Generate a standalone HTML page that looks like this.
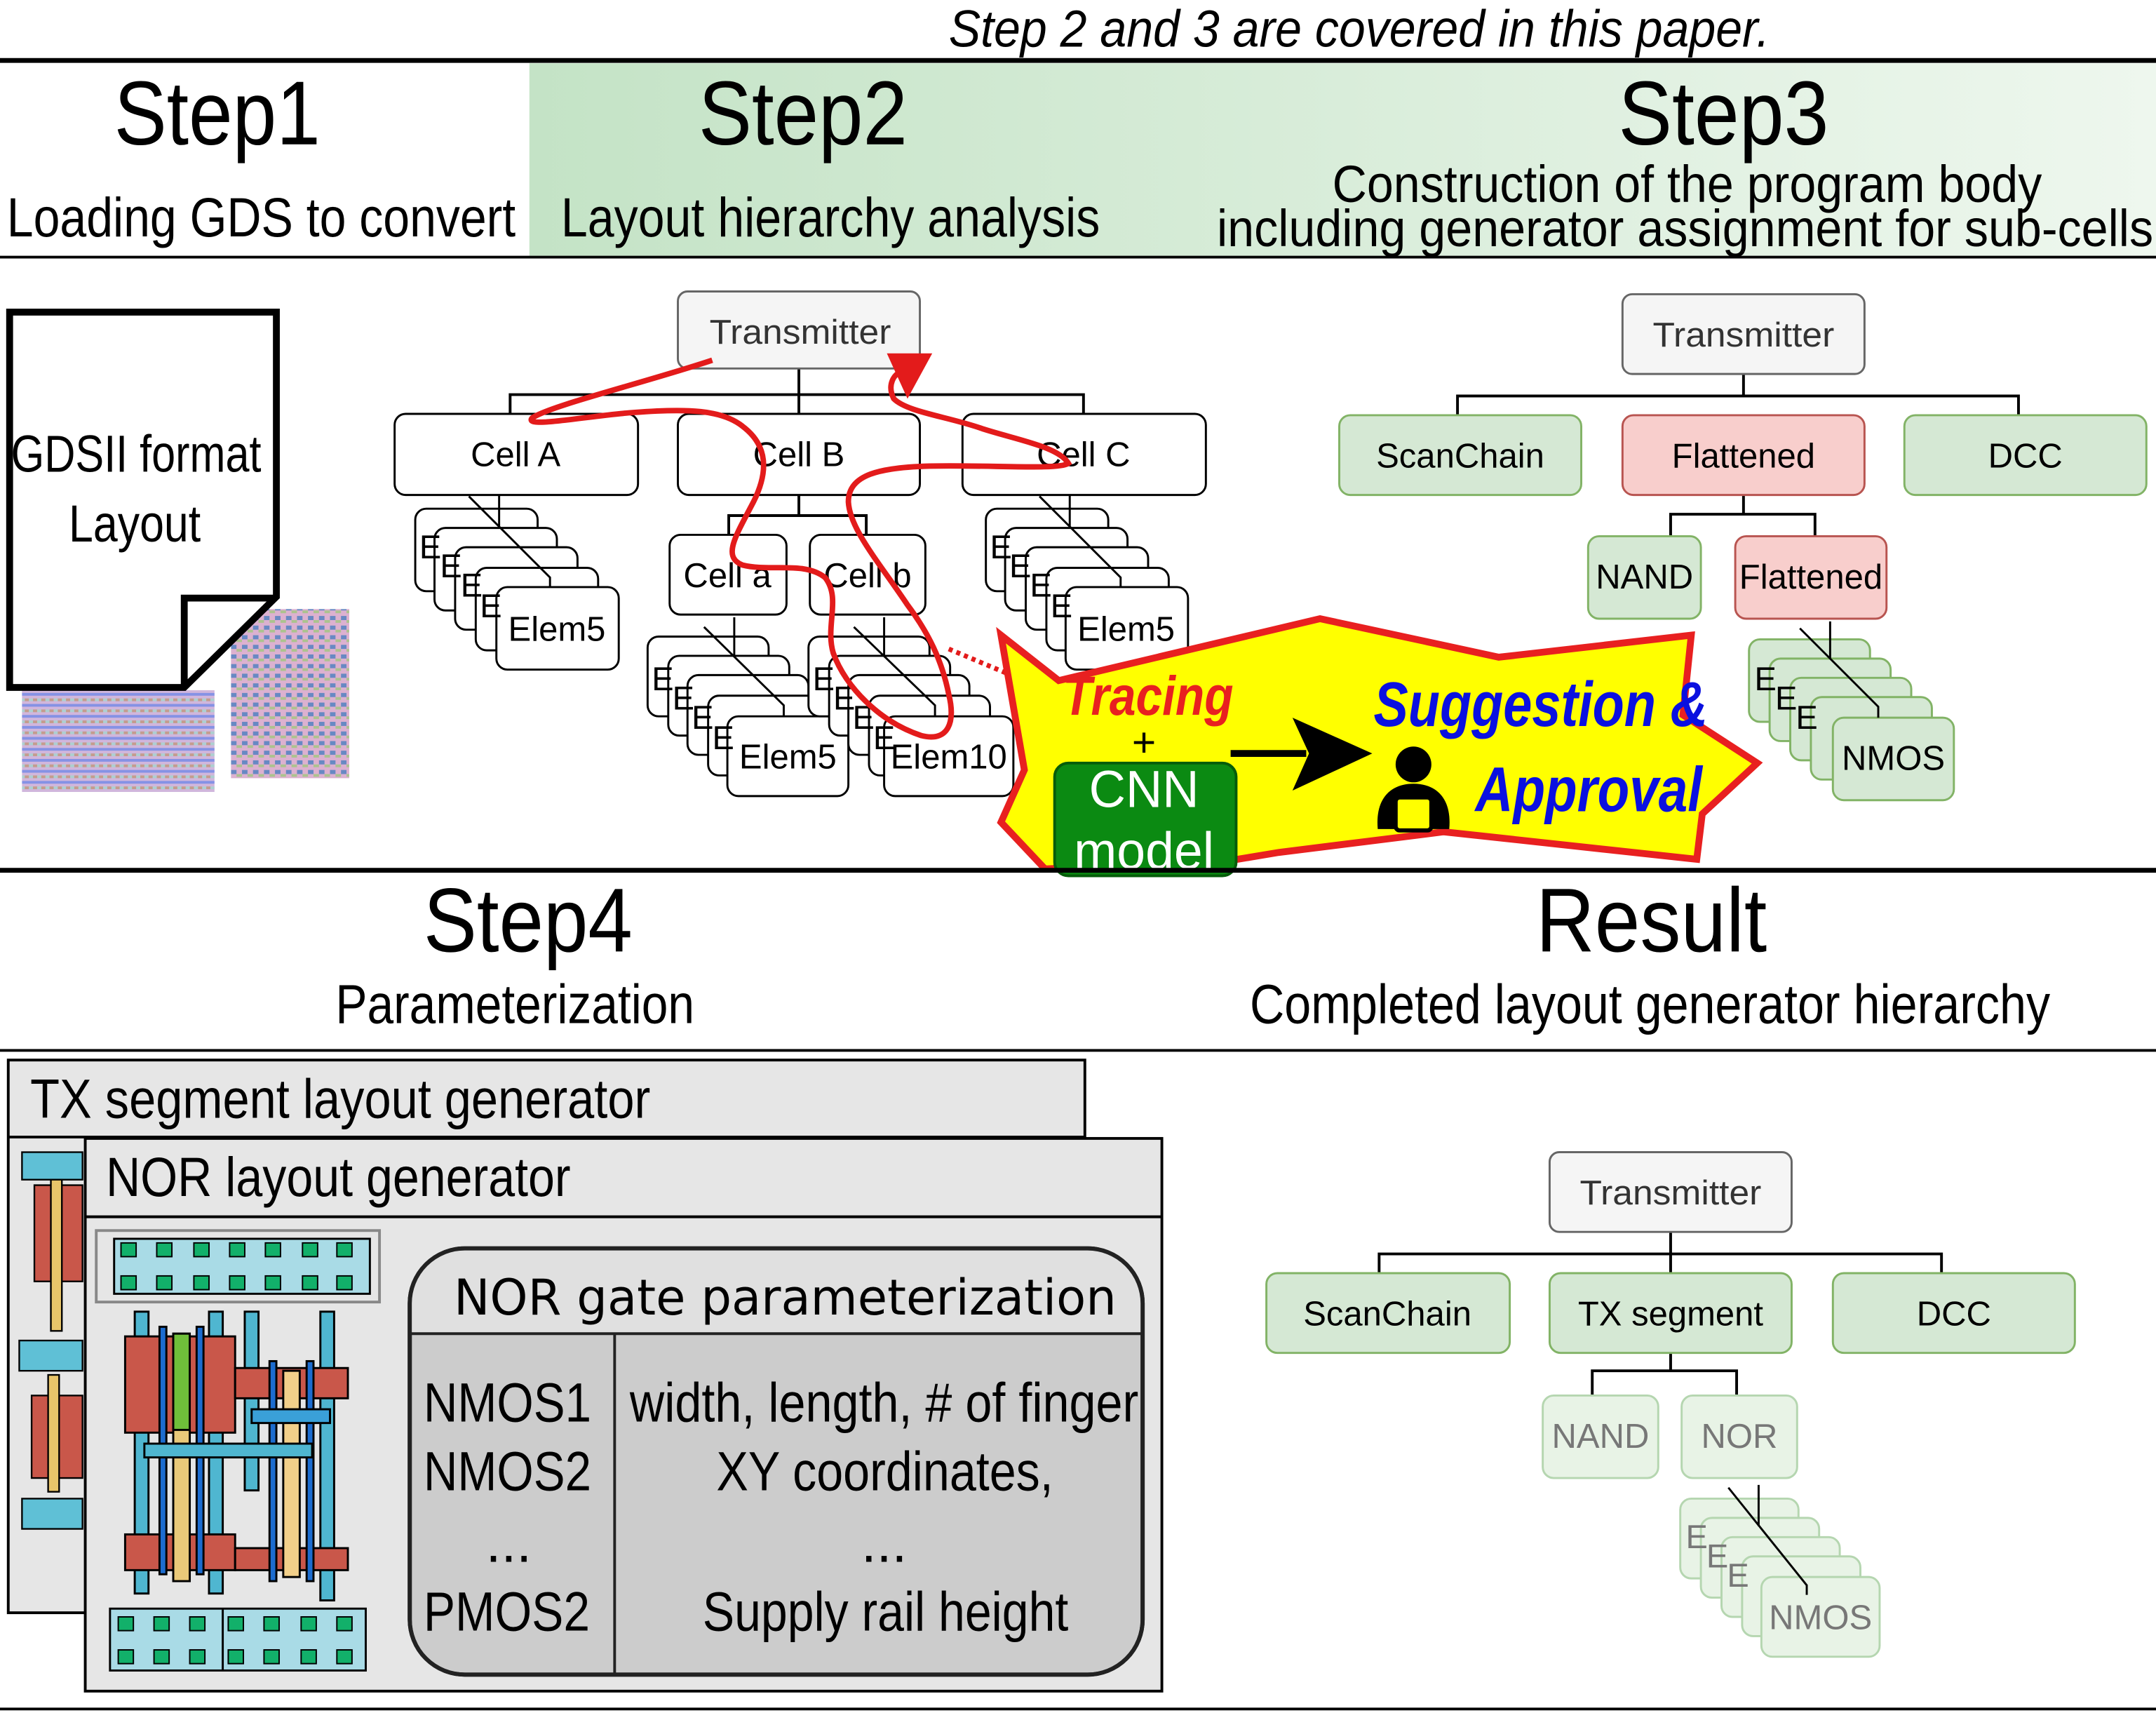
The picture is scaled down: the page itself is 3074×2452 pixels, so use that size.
<!DOCTYPE html>
<html><head><meta charset="utf-8"><style>
html,body{margin:0;padding:0;background:#fff}
svg{display:block}
.n{font-family:"Liberation Sans",sans-serif}
.s{font-family:"Liberation Sans",sans-serif}
</style></head><body>
<svg width="3074" height="2452" viewBox="0 0 1568 1251" preserveAspectRatio="none" xmlns="http://www.w3.org/2000/svg">
<defs>
<linearGradient id="g1" x1="0" x2="1" y1="0" y2="0"><stop offset="0" stop-color="#c4e3c6"/><stop offset="1" stop-color="#eef7ee"/></linearGradient>
<pattern id="lay" width="6" height="8" patternUnits="userSpaceOnUse"><rect width="6" height="8" fill="#c9a9d6"/><rect y="0" width="6" height="2" fill="#6f7fe0"/><rect y="4" width="3" height="2" fill="#b98a7a"/><rect x="3" y="4" width="3" height="2" fill="#9fc7c9"/></pattern>
<pattern id="lay2" width="8" height="7" patternUnits="userSpaceOnUse"><rect width="8" height="7" fill="#d6a3c8"/><rect y="0" width="4" height="3" fill="#4d74b8"/><rect x="4" y="3" width="4" height="2" fill="#9db87a"/></pattern>
</defs>
<rect width="1568" height="1251" fill="#fff"/>
<!-- header -->
<text x="690" y="34" textLength="597" lengthAdjust="spacingAndGlyphs" class="n" font-style="italic" font-size="38">Step 2 and 3 are covered in this paper.</text>
<rect x="385" y="46" width="1183" height="140" fill="url(#g1)"/>
<line x1="0" y1="44" x2="1568" y2="44" stroke="#000" stroke-width="3.5"/>
<line x1="0" y1="187" x2="1568" y2="187" stroke="#000" stroke-width="2"/>
<text x="83" y="105" textLength="150" lengthAdjust="spacingAndGlyphs" class="n" font-size="66">Step1</text>
<text x="508" y="105" textLength="152" lengthAdjust="spacingAndGlyphs" class="n" font-size="66">Step2</text>
<text x="1177" y="105" textLength="153" lengthAdjust="spacingAndGlyphs" class="n" font-size="66">Step3</text>
<text x="5" y="172" textLength="370" lengthAdjust="spacingAndGlyphs" class="n" font-size="40">Loading GDS to convert</text>
<text x="408" y="172" textLength="392" lengthAdjust="spacingAndGlyphs" class="n" font-size="40">Layout hierarchy analysis</text>
<text x="969" y="147" textLength="516" lengthAdjust="spacingAndGlyphs" class="n" font-size="38">Construction of the program body</text>
<text x="885" y="179" textLength="681" lengthAdjust="spacingAndGlyphs" class="n" font-size="38">including generator assignment for sub-cells</text>

<!-- GDS doc -->
<rect x="16" y="502" width="140" height="74" fill="url(#lay)" opacity="0.85"/>
<rect x="168" y="443" width="86" height="123" fill="url(#lay2)" opacity="0.85"/>
<polygon points="7,227 201,227 201,434 134,500 7,500" fill="#fff" stroke="#000" stroke-width="5"/>
<polyline points="134,500 134,435 201,435" fill="none" stroke="#000" stroke-width="5"/>
<text x="8" y="343" textLength="182" lengthAdjust="spacingAndGlyphs" class="n" font-size="38">GDSII format</text>
<text x="50" y="394" textLength="96" lengthAdjust="spacingAndGlyphs" class="n" font-size="38">Layout</text>

<!-- Step2 tree -->
<g stroke="#000" stroke-width="2" fill="none">
<path d="M581 268V287M371 301V287H788V301M581 287V301"/>
<path d="M581 360V375M530 389V375H630V389"/>
</g>
<rect x="493" y="212" width="176" height="56" rx="7" fill="#f5f5f5" stroke="#666" stroke-width="1.5"/>
<text x="516" y="250" textLength="132" lengthAdjust="spacingAndGlyphs" class="s" font-size="25" fill="#333">Transmitter</text>
<g fill="#fff" stroke="#000" stroke-width="1.5">
<rect x="287" y="301" width="177" height="59" rx="8"/>
<rect x="493" y="301" width="176" height="59" rx="8"/>
<rect x="700" y="301" width="177" height="59" rx="8"/>
<rect x="487" y="389" width="85" height="58" rx="8"/>
<rect x="589" y="389" width="84" height="58" rx="8"/>
</g>
<g class="s" font-size="25" text-anchor="middle">
<text x="375" y="339">Cell A</text><text x="581" y="339">Cell B</text><text x="788" y="339">Cell C</text>
<text x="529" y="427">Cell a</text><text x="631" y="427">Cell b</text>
</g>
<!-- stacks -->
<g fill="#fff" stroke="#000" stroke-width="1.5">
<rect x="302" y="370" width="89" height="60" rx="8"/><rect x="316" y="384" width="89" height="60" rx="8"/><rect x="331" y="398" width="89" height="60" rx="8"/><rect x="346" y="413" width="89" height="60" rx="8"/><rect x="361" y="427" width="89" height="60" rx="8"/>
<rect x="717" y="370" width="89" height="60" rx="8"/><rect x="731" y="384" width="89" height="60" rx="8"/><rect x="746" y="398" width="89" height="60" rx="8"/><rect x="761" y="413" width="89" height="60" rx="8"/><rect x="775" y="427" width="89" height="60" rx="8"/>
<rect x="471" y="463" width="88" height="58" rx="8"/><rect x="486" y="477" width="88" height="58" rx="8"/><rect x="500" y="491" width="88" height="58" rx="8"/><rect x="515" y="506" width="88" height="58" rx="8"/><rect x="529" y="521" width="88" height="58" rx="8"/>
<rect x="588" y="463" width="88" height="58" rx="8"/><rect x="603" y="477" width="88" height="58" rx="8"/><rect x="617" y="491" width="88" height="58" rx="8"/><rect x="632" y="506" width="88" height="58" rx="8"/><rect x="643" y="521" width="94" height="58" rx="8"/>
</g>
<g class="s" font-size="24">
<text x="305" y="406">E</text><text x="320" y="420">E</text><text x="335" y="434">E</text><text x="349" y="449">E</text>
<text x="720" y="406">E</text><text x="734" y="420">E</text><text x="749" y="434">E</text><text x="764" y="449">E</text>
<text x="474" y="502">E</text><text x="489" y="516">E</text><text x="503" y="530">E</text><text x="518" y="545">E</text>
<text x="591" y="502">E</text><text x="606" y="516">E</text><text x="620" y="530">E</text><text x="635" y="545">E</text>
</g>
<g class="s" font-size="25" text-anchor="middle">
<text x="405" y="466">Elem5</text><text x="819" y="466">Elem5</text><text x="573" y="559">Elem5</text><text x="690" y="559">Elem10</text>
</g>
<g stroke="#000" stroke-width="1.5" fill="none">
<path d="M341 361L400 420V427M363 360V384"/>
<path d="M756 361L815 420V427M778 360V384"/>
<path d="M512 456L570 513V521M534 449V477"/>
<path d="M621 456L680 513V521M643 449V477"/>
</g>
<!-- red trace -->
<path d="M518 262C470 278 400 295 387 304C380 312 430 302 461 300C500 297 525 298 540 310C560 325 558 345 548 365C535 390 525 405 540 411C560 416 585 408 600 420C612 435 600 455 606 475C615 500 640 525 670 535C690 540 695 525 690 505C685 480 675 460 660 440C640 410 618 385 617 365C617 345 640 340 676 339C720 338 770 342 777 337C770 325 740 320 715 312C690 303 660 300 650 290C645 280 650 272 656 270" fill="none" stroke="#e31b1b" stroke-width="4"/>
<polygon points="645,257 678,257 660,290" fill="#e31b1b"/>
<line x1="690" y1="472" x2="771" y2="506" stroke="#e31b1b" stroke-width="3.5" stroke-dasharray="3,3"/>

<!-- starburst -->
<polygon points="728,462 770,495 960,450 1090,478 1230,462 1224,520 1278,555 1238,592 1234,625 1050,605 930,620 900,625 760,632 728,598 745,560" fill="#ffff00" stroke="#e82020" stroke-width="5"/>
<text x="773" y="520" textLength="124" lengthAdjust="spacingAndGlyphs" class="n" font-weight="bold" font-style="italic" font-size="40" fill="#e82020">Tracing</text>
<text x="832" y="550" text-anchor="middle" class="s" font-size="30">+</text>
<rect x="767" y="555" width="132" height="82" rx="10" fill="#0b8a12" stroke="#065c0a" stroke-width="2"/>
<text x="792" y="587" textLength="80" lengthAdjust="spacingAndGlyphs" class="n" font-size="38" fill="#fff">CNN</text>
<text x="781" y="632" textLength="102" lengthAdjust="spacingAndGlyphs" class="n" font-size="38" fill="#fff">model</text>
<line x1="895" y1="548" x2="950" y2="548" stroke="#000" stroke-width="5"/>
<polygon points="940,522 998,548 940,575 952,548" fill="#000"/>
<text x="999" y="528" textLength="243" lengthAdjust="spacingAndGlyphs" class="n" font-weight="bold" font-style="italic" font-size="46" fill="#0a10e0">Suggestion &amp;</text>
<text x="1073" y="590" textLength="165" lengthAdjust="spacingAndGlyphs" class="n" font-weight="bold" font-style="italic" font-size="46" fill="#0a10e0">Approval</text>
<circle cx="1028" cy="556" r="13" fill="#000"/>
<path d="M1002 603C1000 580 1012 570 1028 570C1044 570 1056 580 1054 603Z" fill="#000"/>
<rect x="1015" y="580" width="26" height="24" rx="3" fill="#ffff00" stroke="#000" stroke-width="3"/>

<!-- Step3 tree -->
<g stroke="#000" stroke-width="2" fill="none">
<path d="M1268 272V288M1060 302V288H1468V302"/>
<path d="M1268 360V374M1215 390V374H1320V390"/>
</g>
<rect x="1180" y="214" width="176" height="58" rx="7" fill="#f5f5f5" stroke="#666" stroke-width="1.5"/>
<text x="1202" y="252" textLength="132" lengthAdjust="spacingAndGlyphs" class="s" font-size="25" fill="#333">Transmitter</text>
<g stroke-width="1.5">
<rect x="974" y="302" width="176" height="58" rx="8" fill="#d5e8d4" stroke="#82b366"/>
<rect x="1180" y="302" width="176" height="58" rx="8" fill="#f8cecc" stroke="#b85450"/>
<rect x="1385" y="302" width="176" height="58" rx="8" fill="#d5e8d4" stroke="#82b366"/>
<rect x="1155" y="390" width="82" height="60" rx="8" fill="#d5e8d4" stroke="#82b366"/>
<rect x="1262" y="390" width="110" height="60" rx="8" fill="#f8cecc" stroke="#b85450"/>
</g>
<g class="s" font-size="25" text-anchor="middle">
<text x="1062" y="340">ScanChain</text><text x="1268" y="340">Flattened</text><text x="1473" y="340">DCC</text>
<text x="1196" y="428">NAND</text><text x="1317" y="428">Flattened</text>
</g>
<g fill="#d5e8d4" stroke="#82b366" stroke-width="1.5">
<rect x="1272" y="465" width="88" height="60" rx="8"/><rect x="1287" y="479" width="88" height="60" rx="8"/><rect x="1302" y="493" width="88" height="60" rx="8"/><rect x="1317" y="507" width="88" height="60" rx="8"/><rect x="1333" y="522" width="88" height="60" rx="8"/>
</g>
<g stroke="#000" stroke-width="1.5" fill="none"><path d="M1309 457L1366 514V522M1331 452V479"/></g>
<g class="s" font-size="24"><text x="1276" y="502">E</text><text x="1291" y="516">E</text><text x="1306" y="530">E</text></g>
<text x="1377" y="560" text-anchor="middle" class="s" font-size="25">NMOS</text>

<!-- Step4 header -->
<line x1="0" y1="633" x2="1568" y2="633" stroke="#000" stroke-width="3.5"/>
<text x="308" y="692" textLength="152" lengthAdjust="spacingAndGlyphs" class="n" font-size="66">Step4</text>
<text x="244" y="744" textLength="261" lengthAdjust="spacingAndGlyphs" class="n" font-size="40">Parameterization</text>
<text x="1117" y="692" textLength="168" lengthAdjust="spacingAndGlyphs" class="n" font-size="66">Result</text>
<text x="909" y="744" textLength="582" lengthAdjust="spacingAndGlyphs" class="n" font-size="40">Completed layout generator hierarchy</text>
<line x1="0" y1="764" x2="1568" y2="764" stroke="#000" stroke-width="2"/>

<!-- generators -->
<rect x="6" y="771" width="783" height="402" fill="#e6e6e6" stroke="#000" stroke-width="2"/>
<line x1="6" y1="827" x2="789" y2="827" stroke="#000" stroke-width="2"/>
<text x="22" y="813" textLength="451" lengthAdjust="spacingAndGlyphs" class="n" font-size="40">TX segment layout generator</text>
<!-- small left layout -->
<g stroke="#000" stroke-width="1.2">
<rect x="16" y="838" width="44" height="20" fill="#5fc0d6"/>
<rect x="25" y="862" width="35" height="70" fill="#c9574a"/>
<rect x="37" y="858" width="8" height="110" fill="#e8c56a"/>
<rect x="14" y="975" width="46" height="22" fill="#5fc0d6"/>
<rect x="23" y="1015" width="37" height="60" fill="#c9574a"/>
<rect x="35" y="1000" width="8" height="85" fill="#e8c56a"/>
<rect x="16" y="1090" width="44" height="22" fill="#5fc0d6"/>
</g>
<rect x="62" y="828" width="783" height="402" fill="#e6e6e6" stroke="#000" stroke-width="2"/>
<line x1="62" y1="885" x2="845" y2="885" stroke="#000" stroke-width="2"/>
<text x="77" y="870" textLength="338" lengthAdjust="spacingAndGlyphs" class="n" font-size="40">NOR layout generator</text>
<!-- NOR layout -->
<rect x="70" y="895" width="206" height="52" fill="none" stroke="#888" stroke-width="2"/>
<g stroke="#000" stroke-width="1.5">
<rect x="83" y="901" width="186" height="40" fill="#a9dbe6"/>
<rect x="98" y="954" width="10" height="205" fill="#4fb6d0"/>
<rect x="152" y="954" width="10" height="205" fill="#4fb6d0"/>
<rect x="178" y="954" width="10" height="130" fill="#4fb6d0"/>
<rect x="233" y="954" width="10" height="210" fill="#4fb6d0"/>
<rect x="91" y="972" width="80" height="70" fill="#c9574a"/>
<rect x="171" y="995" width="82" height="22" fill="#c9574a"/>
<rect x="91" y="1116" width="80" height="26" fill="#c9574a"/>
<rect x="171" y="1126" width="82" height="16" fill="#c9574a"/>
<rect x="126" y="970" width="12" height="180" fill="#e9c979"/>
<rect x="126" y="970" width="12" height="70" fill="#6fbf3a"/>
<rect x="206" y="997" width="12" height="150" fill="#f2d08a"/>
<rect x="116" y="965" width="5" height="180" fill="#1c6ccf"/>
<rect x="143" y="965" width="5" height="180" fill="#1c6ccf"/>
<rect x="196" y="990" width="5" height="160" fill="#1c6ccf"/>
<rect x="223" y="990" width="5" height="160" fill="#1c6ccf"/>
<rect x="183" y="1025" width="57" height="10" fill="#3aa0d8"/>
<rect x="105" y="1050" width="122" height="10" fill="#4fb6d0"/>
<rect x="80" y="1170" width="186" height="45" fill="#a9dbe6"/>
<line x1="162" y1="1170" x2="162" y2="1215"/>
</g>
<g fill="#12b06a" stroke="#000" stroke-width="1">
<rect x="88" y="904" width="11" height="10"/><rect x="114" y="904" width="11" height="10"/><rect x="141" y="904" width="11" height="10"/><rect x="167" y="904" width="11" height="10"/><rect x="193" y="904" width="11" height="10"/><rect x="220" y="904" width="11" height="10"/><rect x="245" y="904" width="11" height="10"/>
<rect x="88" y="928" width="11" height="10"/><rect x="114" y="928" width="11" height="10"/><rect x="141" y="928" width="11" height="10"/><rect x="167" y="928" width="11" height="10"/><rect x="193" y="928" width="11" height="10"/><rect x="220" y="928" width="11" height="10"/><rect x="245" y="928" width="11" height="10"/>
<rect x="86" y="1176" width="11" height="10"/><rect x="112" y="1176" width="11" height="10"/><rect x="138" y="1176" width="11" height="10"/><rect x="166" y="1176" width="11" height="10"/><rect x="192" y="1176" width="11" height="10"/><rect x="219" y="1176" width="11" height="10"/><rect x="245" y="1176" width="11" height="10"/>
<rect x="86" y="1200" width="11" height="10"/><rect x="112" y="1200" width="11" height="10"/><rect x="138" y="1200" width="11" height="10"/><rect x="166" y="1200" width="11" height="10"/><rect x="192" y="1200" width="11" height="10"/><rect x="219" y="1200" width="11" height="10"/><rect x="245" y="1200" width="11" height="10"/>
</g>
<!-- table -->
<rect x="298" y="908" width="533" height="310" rx="40" fill="#cccccc" stroke="#222" stroke-width="3"/>
<path d="M338 909H791A40 40 0 0 1 830 948V970H299V948A40 40 0 0 1 338 909Z" fill="#e0e0e0"/>
<rect x="298" y="908" width="533" height="310" rx="40" fill="none" stroke="#222" stroke-width="3"/>
<line x1="299" y1="970" x2="830" y2="970" stroke="#222" stroke-width="2"/>
<line x1="447" y1="970" x2="447" y2="1217" stroke="#222" stroke-width="2"/>
<text x="330" y="956" textLength="482" lengthAdjust="spacingAndGlyphs" font-family="'DejaVu Sans','Liberation Sans',sans-serif" font-size="36">NOR gate parameterization</text>
<g class="n" font-size="40">
<text x="308" y="1034" textLength="122" lengthAdjust="spacingAndGlyphs">NMOS1</text>
<text x="308" y="1084" textLength="122" lengthAdjust="spacingAndGlyphs">NMOS2</text>
<text x="370" y="1136" text-anchor="middle">...</text>
<text x="308" y="1186" textLength="121" lengthAdjust="spacingAndGlyphs">PMOS2</text>
<text x="458" y="1034" textLength="370" lengthAdjust="spacingAndGlyphs">width, length, # of finger</text>
<text x="521" y="1084" textLength="245" lengthAdjust="spacingAndGlyphs">XY coordinates,</text>
<text x="643" y="1136" text-anchor="middle">...</text>
<text x="511" y="1186" textLength="266" lengthAdjust="spacingAndGlyphs">Supply rail height</text>
</g>

<!-- Result tree -->
<g stroke="#000" stroke-width="2" fill="none">
<path d="M1215 896V912M1003 926V912H1412V926M1215 912V926"/>
<path d="M1215 984V997M1158 1015V997H1263V1015"/>
</g>
<rect x="1127" y="838" width="176" height="58" rx="7" fill="#f5f5f5" stroke="#666" stroke-width="1.5"/>
<text x="1149" y="876" textLength="132" lengthAdjust="spacingAndGlyphs" class="s" font-size="25" fill="#333">Transmitter</text>
<g fill="#d5e8d4" stroke="#82b366" stroke-width="1.5">
<rect x="921" y="926" width="177" height="58" rx="8"/><rect x="1127" y="926" width="176" height="58" rx="8"/><rect x="1333" y="926" width="176" height="58" rx="8"/>
</g>
<g class="s" font-size="25" text-anchor="middle">
<text x="1009" y="964">ScanChain</text><text x="1215" y="964">TX segment</text><text x="1421" y="964">DCC</text>
</g>
<g fill="#e8f3e6" stroke="#b5d6b0" stroke-width="1.5">
<rect x="1122" y="1015" width="84" height="60" rx="8"/><rect x="1223" y="1015" width="84" height="60" rx="8"/>
<rect x="1222" y="1090" width="86" height="58" rx="8"/><rect x="1237" y="1104" width="86" height="58" rx="8"/><rect x="1252" y="1118" width="86" height="58" rx="8"/><rect x="1267" y="1132" width="86" height="58" rx="8"/><rect x="1281" y="1147" width="86" height="58" rx="8"/>
</g>
<g stroke="#000" stroke-width="1.5" fill="none"><path d="M1257 1082L1314 1153V1160M1279 1080V1110"/></g>
<g class="s" font-size="25" fill="#777" text-anchor="middle">
<text x="1164" y="1053">NAND</text><text x="1265" y="1053">NOR</text><text x="1324" y="1185">NMOS</text>
</g>
<g class="s" font-size="24" fill="#777"><text x="1226" y="1126">E</text><text x="1241" y="1140">E</text><text x="1256" y="1154">E</text></g>

<line x1="0" y1="1243" x2="1568" y2="1243" stroke="#000" stroke-width="2"/>
</svg>
</body></html>
